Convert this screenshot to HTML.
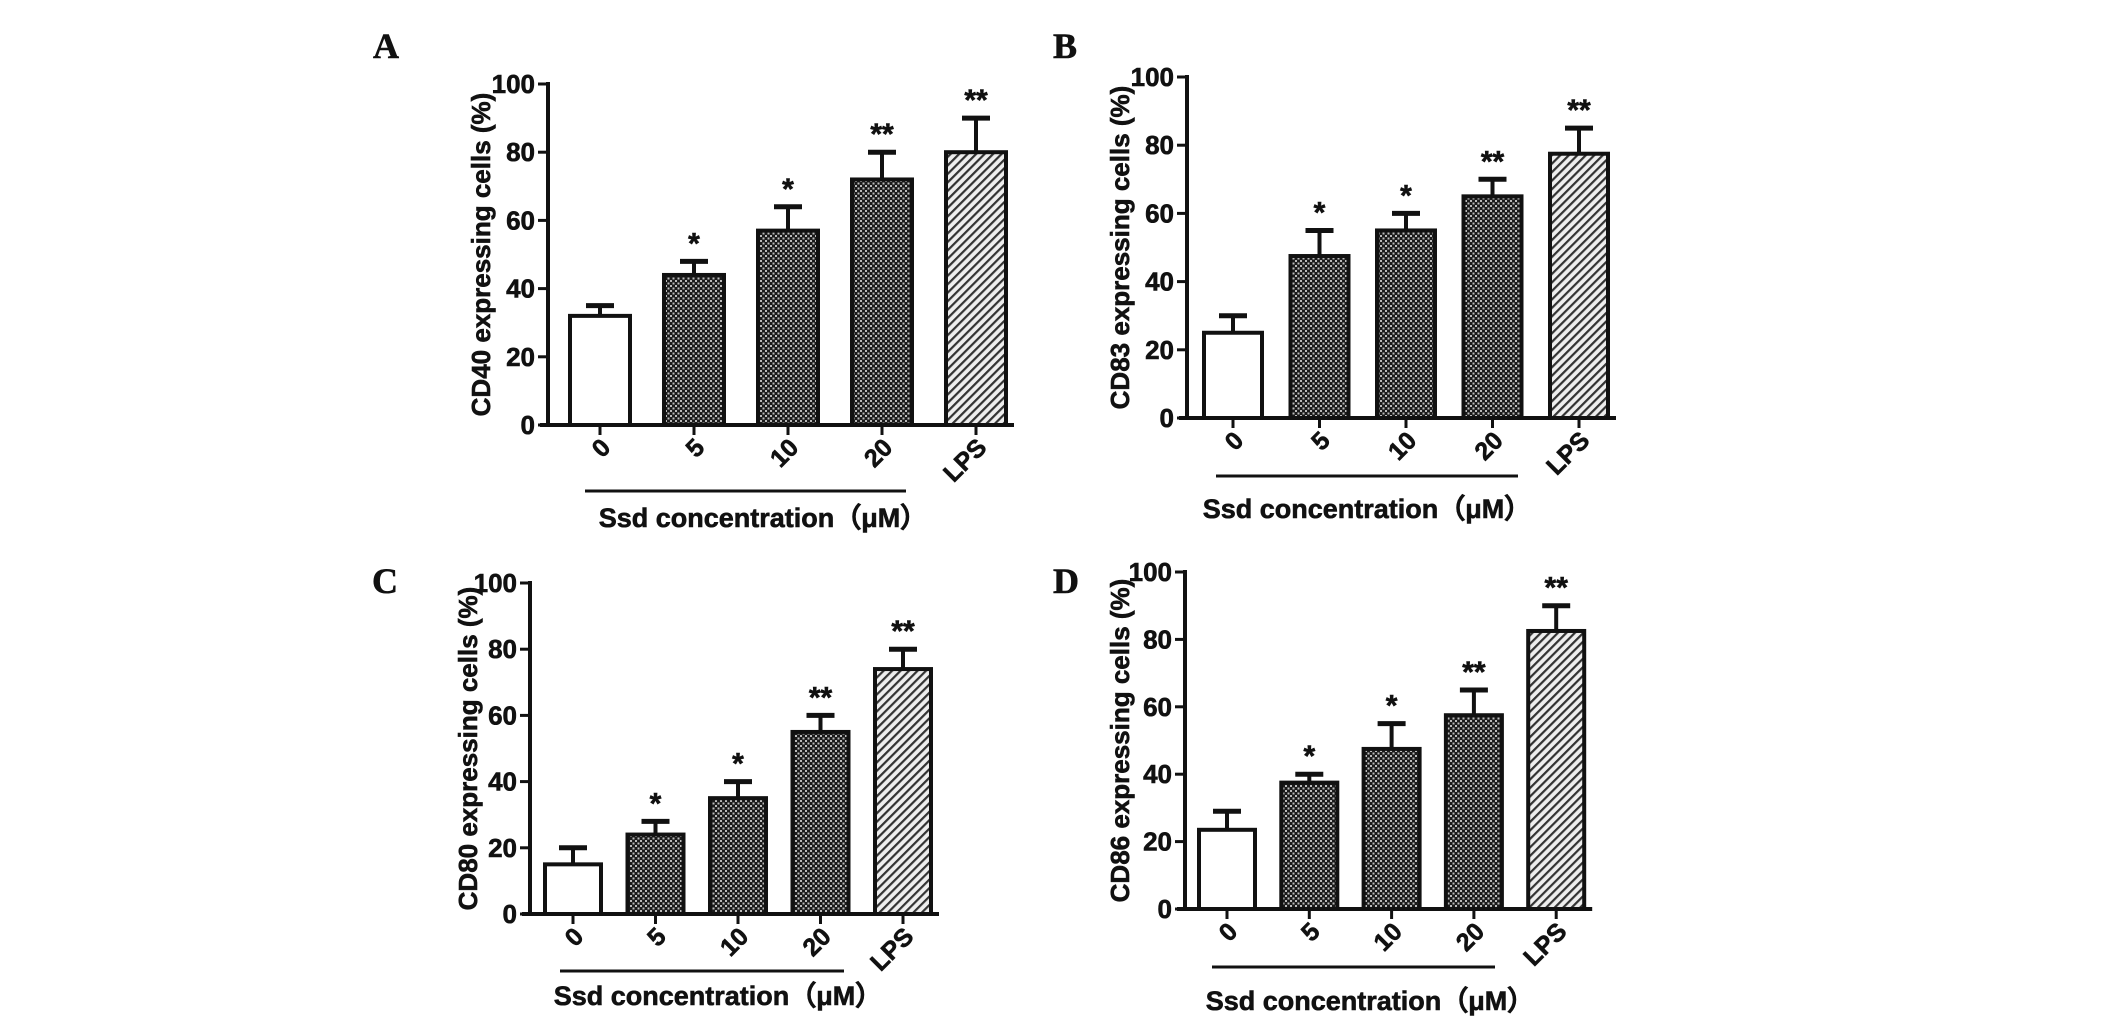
<!DOCTYPE html>
<html><head><meta charset="utf-8"><style>
html,body{margin:0;padding:0;background:#fff;}
svg{display:block;}
text{font-family:"Liberation Sans",Arial,sans-serif;font-weight:bold;fill:#111;stroke:#111;stroke-width:0.6;}
.lbl{font-family:"Liberation Serif",serif;font-size:36px;}
</style></head><body>
<svg id="fig" width="2126" height="1027" viewBox="0 0 2126 1027" xmlns="http://www.w3.org/2000/svg">
<defs>
<pattern id="dots" width="5" height="5" patternUnits="userSpaceOnUse">
<rect width="5" height="5" fill="#1a1a1a"/><rect x="0" y="0" width="2" height="2" fill="#bbb"/><rect x="2.5" y="2.5" width="2" height="2" fill="#bbb"/>
</pattern>
<pattern id="hatch" width="6" height="6" patternUnits="userSpaceOnUse" patternTransform="rotate(45)">
<rect width="6" height="6" fill="#eee"/><rect width="2.2" height="6" fill="#333"/>
</pattern>
</defs>
</svg>
<script>
const categories = ["0","5","10","20","LPS"];
const yTicks = [0,20,40,60,80,100];
const valuesA = [32,44,57,72,80];
const errorsA = [3,4,7,8,10];
const valuesB = [25,47.5,55,65,77.5];
const errorsB = [5,7.5,5,5,7.5];
const valuesC = [15,24,35,55,74];
const errorsC = [5,4,5,5,6];
const valuesD = [23.5,37.5,47.5,57.5,82.5];
const errorsD = [5.5,2.5,7.5,7.5,7.5];
const starsA = ["","*","*","**","**"];
const starsB = ["","*","*","**","**"];
const starsC = ["","*","*","**","**"];
const starsD = ["","*","*","**","**"];

const NS="http://www.w3.org/2000/svg";
const svg=document.getElementById('fig');
function mk(tag,attrs,parent){const e=document.createElementNS(NS,tag);for(const k in attrs)e.setAttribute(k,attrs[k]);(parent||svg).appendChild(e);return e;}

const panels=[
 {id:'a',letter:'A',lx:373,ly:58,ax:548,y0:425,y100:84,c0:600,pitch:94,bw:60,ulx1:585,ulx2:906,uly:491,tx:763,ty:527,ytx:483,yt:'CD40 expressing cells (%)',v:valuesA,e:errorsA,s:starsA},
 {id:'b',letter:'B',lx:1053,ly:58,ax:1187,y0:418,y100:77,c0:1233,pitch:86.5,bw:58,ulx1:1216,ulx2:1518,uly:476,tx:1367,ty:518,ytx:1122,yt:'CD83 expressing cells (%)',v:valuesB,e:errorsB,s:starsB},
 {id:'c',letter:'C',lx:372,ly:593,ax:530,y0:914,y100:583,c0:573,pitch:82.5,bw:56,ulx1:560,ulx2:844,uly:971,tx:718,ty:1005,ytx:470,yt:'CD80 expressing cells (%)',v:valuesC,e:errorsC,s:starsC},
 {id:'d',letter:'D',lx:1053,ly:593,ax:1185,y0:909,y100:572,c0:1227,pitch:82.3,bw:56,ulx1:1212,ulx2:1495,uly:967,tx:1370,ty:1010,ytx:1122,yt:'CD86 expressing cells (%)',v:valuesD,e:errorsD,s:starsD}
];

panels.forEach(p=>{
 const g=mk('g',{});
 
 
 const ys=v=>p.y0-(v/100)*(p.y0-p.y100);
 const xs=i=>p.c0+i*p.pitch;
 const L=mk('text',{x:p.lx,y:p.ly,class:'lbl'},g);L.textContent=p.letter;
 
 
 p.v.forEach((v,i)=>{
  const fill=i===0?'#fff':(i===4?'url(#hatch)':'url(#dots)');
  const cx=xs(i);
  const top=ys(v), et=ys(v+p.e[i]);
  const eb=mk('line',{x1:cx,x2:cx,y1:top,y2:et,stroke:'#111','stroke-width':4},g);
  
  
  const cap=mk('line',{x1:cx-14,x2:cx+14,y1:et,y2:et,stroke:'#111','stroke-width':5},g);
  
  
  const r=mk('rect',{x:cx-p.bw/2,y:top,width:p.bw,height:p.y0-top,fill:fill,stroke:'#111','stroke-width':4},g);
  
  
  if(p.s[i]){
   const st=mk('text',{x:cx,y:et-8,'text-anchor':'middle','font-size':30},g);
   st.textContent=p.s[i];
   
   
  }
  const tk=mk('line',{x1:cx,x2:cx,y1:p.y0,y2:p.y0+10,stroke:'#111','stroke-width':3},g);
  
  
  const tl=mk('text',{x:cx+12,y:p.y0+24,'text-anchor':'end','font-size':25,transform:`rotate(-45 ${cx+12} ${p.y0+24})`},g);
  tl.textContent=categories[i];
  
  
 });
 const ya=mk('line',{x1:p.ax,x2:p.ax,y1:p.y100-2,y2:p.y0+2,stroke:'#111','stroke-width':4},g);
 
 
 const xa=mk('line',{x1:p.ax-8,x2:xs(4)+p.bw/2+8,y1:p.y0,y2:p.y0,stroke:'#111','stroke-width':4},g);
 
 
 yTicks.forEach(t=>{
  const y=ys(t);
  const tk=mk('line',{x1:p.ax-10,x2:p.ax,y1:y,y2:y,stroke:'#111','stroke-width':3},g);
  
  
  const tl=mk('text',{x:p.ax-13,y:y+9,'text-anchor':'end','font-size':26},g);
  tl.textContent=t;
  
  
 });
 const ymid=(p.y0+p.y100)/2;
 const yt=mk('text',{x:p.ytx,y:ymid,'text-anchor':'middle','font-size':26,transform:`rotate(-90 ${p.ytx} ${ymid})`,'dominant-baseline':'middle'},g);
 yt.textContent=p.yt;
 
 
 const ul=mk('line',{x1:p.ulx1,x2:p.ulx2,y1:p.uly,y2:p.uly,stroke:'#111','stroke-width':3},g);
 
 
 const xt=mk('text',{x:p.tx,y:p.ty,'text-anchor':'middle','font-size':27},g);
 xt.textContent='Ssd concentration（μM）';
 xt.setAttribute('font-family','"Liberation Sans","Noto Sans CJK SC",sans-serif');
 
 
});
</script>
</body></html>
